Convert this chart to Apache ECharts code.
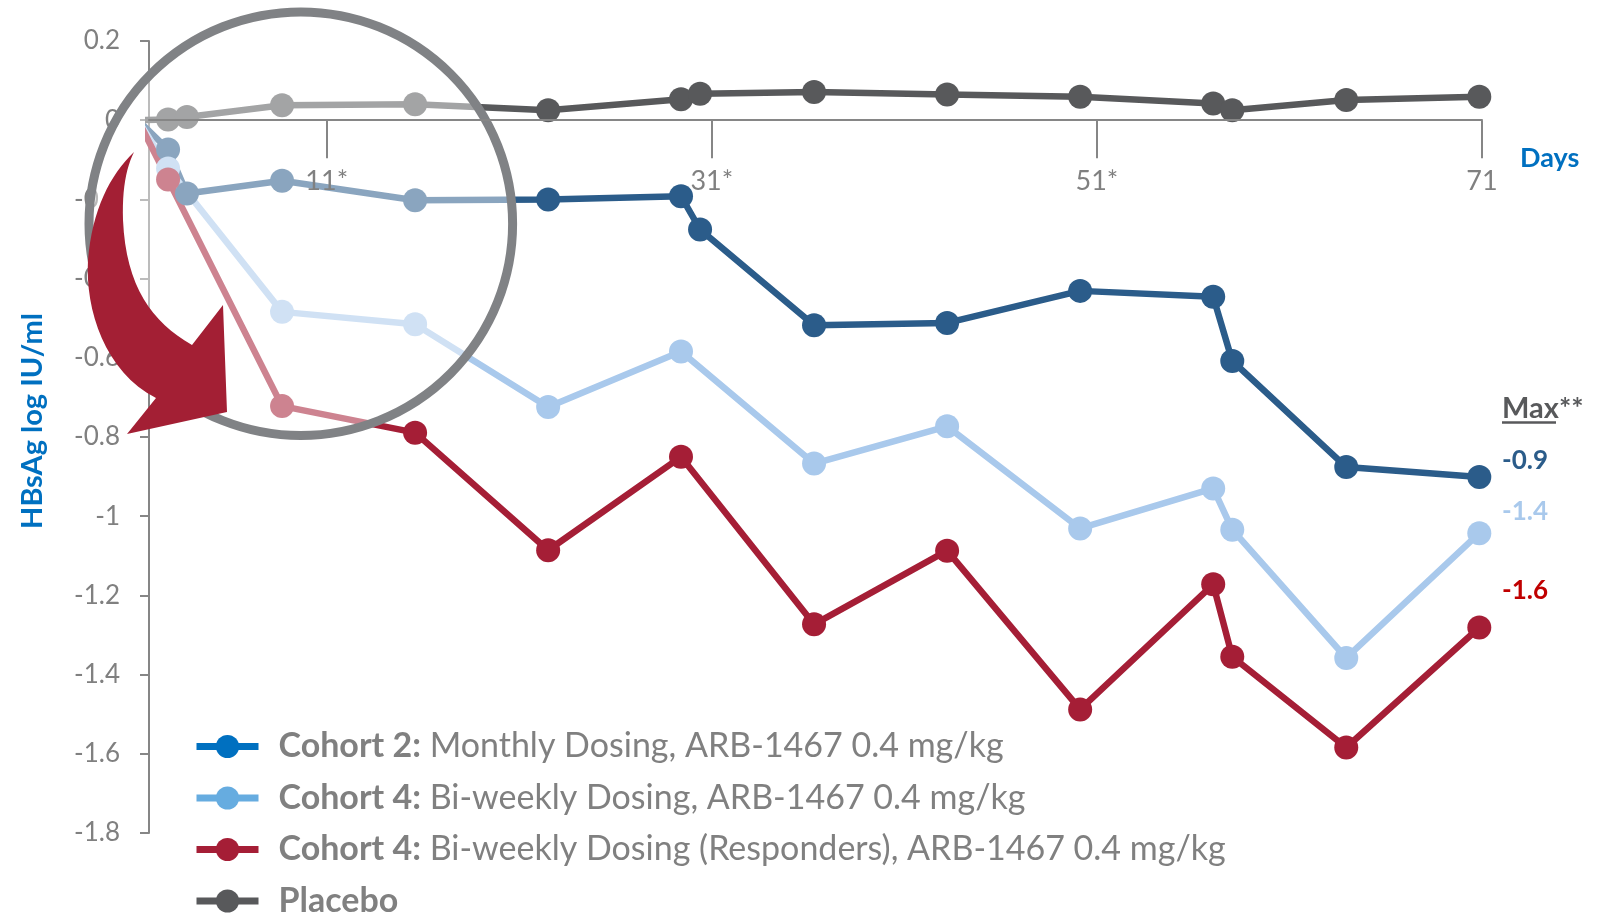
<!DOCTYPE html>
<html>
<head>
<meta charset="utf-8">
<script src="https://cdn.jsdelivr.net/npm/echarts@6/dist/echarts.min.js"></script>
<style>
  html, body { margin: 0; padding: 0; background: #ffffff; }
  #chart { width: 1611px; height: 918px; }
</style>
</head>
<body>
<div id="chart"></div>
<script>
// Visit days on the study-day scale (first entry is the pre-dose baseline)
const days = [1.2, 2.76, 3.74, 8.68, 15.59, 22.50, 29.40, 30.39, 36.31, 43.22, 50.13, 57.04, 58.03, 63.95, 70.86];

// Mean change in HBsAg (log IU/ml); null = no visit for that cohort
const cohort2     = [0, -0.074, -0.185, -0.153, -0.202, -0.200, -0.192, -0.276, -0.518, -0.512, -0.431, -0.446, -0.608, -0.876, -0.901];
const cohort4     = [0, -0.122, null,   -0.484, -0.515, -0.724, -0.584, null,   -0.867, -0.773, -1.031, -0.930, -1.034, -1.358, -1.043];
const cohort4Resp = [0, -0.150, null,   -0.722, -0.789, -1.086, -0.850, null,   -1.273, -1.087, -1.488, -1.172, -1.355, -1.584, -1.281];
const placebo     = [0,  0.002,  0.008,  0.038,  0.040,  0.025,  0.053,  0.067,  0.071,  0.065,  0.059,  0.042,  0.025,  0.051,  0.059];

const seriesNames = [
  'Cohort 2: Monthly Dosing, ARB-1467 0.4 mg/kg',
  'Cohort 4: Bi-weekly Dosing, ARB-1467 0.4 mg/kg',
  'Cohort 4: Bi-weekly Dosing (Responders), ARB-1467 0.4 mg/kg',
  'Placebo'
];
const seriesValues = [cohort2, cohort4, cohort4Resp, placebo];

// X axis ticks (asterisk marks dosing days)
const xTickDays = [11, 31, 51, 71];
const xTickLabels = ['11*', '31*', '51*', '71'];

// Y axis range
const yMin = -1.8, yMax = 0.2, yStep = 0.2;

const lineColors   = ['#2B5C8A', '#A9C9EC', '#A51E36', '#58595B'];
const legendColors = ['#0070C0', '#66ACE0', '#A51E36', '#58595B'];
const maxLabelColors = ['#2B5C8A', '#A9C9EC', '#C00000'];
const FONT = 'Lato, "Open Sans", sans-serif';
const GREY = '#808080';

// Plot area
const GRID = { left: 149, right: 129, top: 41, bottom: 85 };
const plotH = 918 - GRID.top - GRID.bottom;
// The day axis runs along the zero line of the value axis
const zeroY = GRID.top + (yMax - 0) / (yMax - yMin) * plotH;
const xAxisOffset = -(GRID.top + plotH - zeroY);

const chart = echarts.init(document.getElementById('chart'), null, { renderer: 'canvas' });

const series = seriesValues.map((vals, i) => ({
  type: 'line',
  name: seriesNames[i],
  data: days.map((d, k) => [d, vals[k]]).filter(p => p[1] !== null),
  symbol: 'circle',
  symbolSize: 24,
  clip: true,
  lineStyle: { width: 6.5, color: lineColors[i] },
  itemStyle: { color: lineColors[i] },
  emphasis: { disabled: true },
  z: 2
}));

// Largest mean reduction per active cohort, shown at the right edge
const maxDrops = [cohort2, cohort4, cohort4Resp].map(v =>
  Math.min(...v.filter(x => x !== null)).toFixed(1));
const maxLabelY = [461, 512, 591];

// Outline of the curved callout arrow, built from cubic segments
function cubic(p0, p1, p2, p3, n) {
  const pts = [];
  for (let i = 1; i <= n; i++) {
    const t = i / n, u = 1 - t;
    pts.push([
      u * u * u * p0[0] + 3 * u * u * t * p1[0] + 3 * u * t * t * p2[0] + t * t * t * p3[0],
      u * u * u * p0[1] + 3 * u * u * t * p1[1] + 3 * u * t * t * p2[1] + t * t * t * p3[1]
    ]);
  }
  return pts;
}
const arrowPts = [[134, 152]]
  .concat(cubic([134, 152], [110, 175], [92, 210], [88, 260], 16))
  .concat(cubic([88, 260], [85, 310], [105, 372], [156, 398], 16))
  .concat([[127, 434], [227, 412], [223, 305], [192, 345]])
  .concat(cubic([192, 345], [152, 322], [126, 287], [123, 220], 16))
  .concat(cubic([123, 220], [122, 190], [126, 168], [134, 152], 12));

const graphics = [
  // highlight ring over the first weeks: ring with a light wash inside
  {
    type: 'circle',
    shape: { cx: 300.8, cy: 223.7, r: 211.8 },
    style: { fill: 'rgba(255,255,255,0.45)', stroke: '#808285', lineWidth: 9 },
    z: 10, silent: true
  },
  {
    type: 'polygon',
    shape: { points: arrowPts },
    style: { fill: '#A31F34' },
    z: 30, silent: true
  },
  {
    type: 'text', x: 1502, y: 409, z: 30, silent: true,
    style: { text: 'Max**', fill: '#58595B', font: 'bold 29px ' + FONT, align: 'left', verticalAlign: 'middle' }
  },
  {
    type: 'line', z: 30, silent: true,
    shape: { x1: 1502, y1: 422.5, x2: 1556, y2: 422.5 },
    style: { stroke: '#58595B', lineWidth: 2.5 }
  }
].concat(maxDrops.map((txt, i) => ({
  type: 'text', x: 1502, y: maxLabelY[i], z: 30, silent: true,
  style: { text: txt, fill: maxLabelColors[i], font: 'bold 26px ' + FONT, align: 'left', verticalAlign: 'middle' }
})));

const option = {
  animation: false,
  backgroundColor: '#ffffff',
  grid: Object.assign({ containLabel: false }, GRID),
  xAxis: {
    type: 'value',
    min: 1.77,
    max: 71,
    z: 20,
    offset: xAxisOffset,
    name: 'Days',
    nameLocation: 'end',
    nameGap: 38,
    nameTextStyle: {
      color: '#0070C0', fontFamily: FONT, fontWeight: 'bold', fontSize: 27,
      verticalAlign: 'top', lineHeight: 76
    },
    axisLine: { onZero: false, lineStyle: { color: '#868686', width: 2 } },
    axisTick: { show: true, customValues: xTickDays, length: 38, lineStyle: { color: '#868686', width: 2 } },
    axisLabel: {
      customValues: xTickDays,
      formatter: v => xTickLabels[xTickDays.indexOf(v)] || '',
      color: GREY, fontFamily: FONT, fontSize: 27, margin: 48
    },
    splitLine: { show: false }
  },
  yAxis: {
    type: 'value',
    min: yMin,
    max: yMax,
    interval: yStep,
    name: 'HBsAg log IU/ml',
    nameLocation: 'middle',
    nameRotate: 90,
    nameGap: 102,
    nameTextStyle: { color: '#0070C0', fontFamily: FONT, fontWeight: 'bold', fontSize: 29, padding: [0, 0, 0, 32] },
    axisLine: { show: true, onZero: false, lineStyle: { color: '#868686', width: 2 } },
    axisTick: { show: true, length: 9, lineStyle: { color: '#868686', width: 2 } },
    axisLabel: { color: GREY, fontFamily: FONT, fontSize: 26, margin: 29 },
    splitLine: { show: false }
  },
  legend: {
    orient: 'vertical',
    left: 193,
    bottom: 0,
    padding: 0,
    itemWidth: 62,
    itemHeight: 29,
    itemGap: 17.5,
    selectedMode: false,
    data: seriesNames.map((n, i) => ({
      name: n,
      itemStyle: { color: legendColors[i] },
      lineStyle: { color: legendColors[i], width: 7 }
    })),
    formatter: name => {
      const k = name.indexOf(':');
      if (k < 0) return '{b|' + name + '}';
      return '{b|' + name.slice(0, k + 1) + '} {n|' + name.slice(k + 2) + '}';
    },
    textStyle: {
      color: GREY, fontFamily: FONT, fontSize: 34, padding: [0, 0, 0, 15],
      rich: {
        b: { color: GREY, fontFamily: FONT, fontSize: 34, fontWeight: 'bold' },
        n: { color: GREY, fontFamily: FONT, fontSize: 34 }
      }
    }
  },
  graphic: graphics,
  series: series
};

chart.setOption(option);
</script>
</body>
</html>
